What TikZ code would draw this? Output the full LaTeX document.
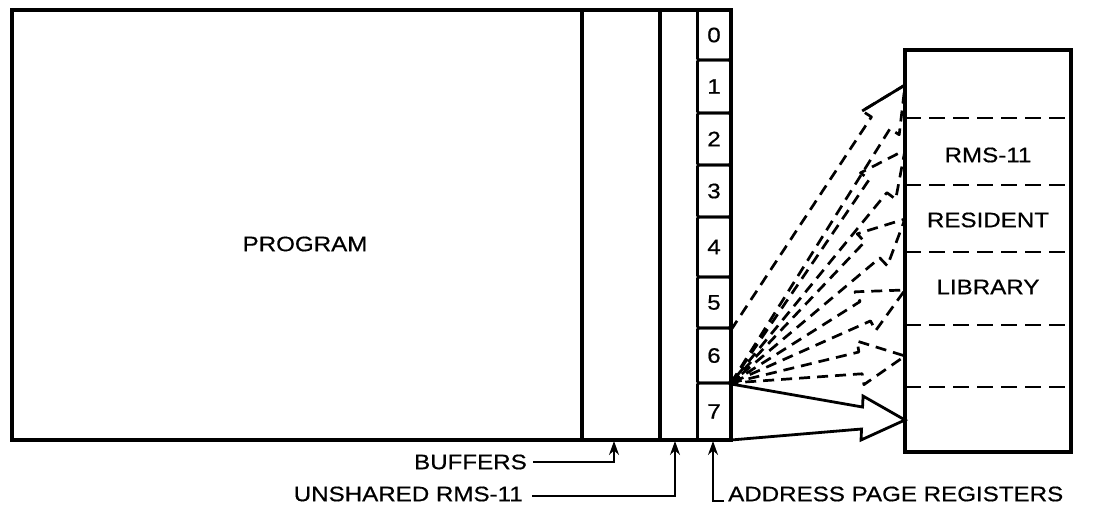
\documentclass[tikz,border=0pt]{standalone}
\usepackage{fontspec}
\setmainfont{Liberation Sans}[FakeStretch=1.15, FakeBold=0.6]
\usetikzlibrary{calc, arrows.meta}

\begin{document}
\begin{tikzpicture}[
  x=1pt, y=-1pt, every node/.style={font=\fontsize{21}{24}\selectfont, inner sep=0pt},
  frame/.style={draw, line width=3.2pt},
  regcell/.style={draw, line width=2.8pt, rounded corners=1.5pt, minimum width=33pt},
  seg/.style={line width=2.8pt, dash pattern=on 16pt off 8pt},
  fatdash/.style={line width=2.7pt, dash pattern=on 11pt off 7pt, line join=round},
  fatsolid/.style={line width=2.8pt, line join=miter},
  pointer/.style={line width=1.8pt, -{Stealth[length=14pt,width=10pt]}}
]
\useasboundingbox (0,0) rectangle (1093,510);

% Program space with buffers and unshared RMS-11
\node[frame, minimum width=719pt, minimum height=430pt] (prog) at (371.5,225) {};
\node (progtxt) at (305,244) {PROGRAM};
\draw[frame] (582,10) -- (582,440);
\draw[frame] (660,10) -- (660,440);

% Address page registers 0..7
\foreach \i/\y/\h in {0/35/50, 1/86.5/53, 2/139/52, 3/191/52, 4/247/60, 5/302.5/51, 6/355.5/55, 7/411.5/57}
  \node[regcell, minimum height=\h pt] (r\i) at (714,\y) {\i};

% Resident library
\node[frame, minimum width=166pt, minimum height=402pt] (lib) at (988,251) {};
\foreach \y in {118,185,252,325,387}
  \draw[seg] (905,\y) -- (1071,\y);
\node (rms) at (988,155) {RMS-11};
\node (res) at (988,220) {RESIDENT};
\node (libtxt) at (988,287) {LIBRARY};

% Mapping arrows
\coordinate (a6top) at (731,330);
\coordinate (a6bot) at (731,383);
\coordinate (a6mid) at (731,356);
\coordinate (a7top) at (731,384);
\coordinate (a7bot) at (731,440);
\coordinate (a7mid) at (731,412);
\foreach \n/\y in {1/85, 2/150, 3/219, 4/290, 5/356, 7/420}
  \coordinate (tip\n) at (905,\y);
\coordinate (hb1) at ($(tip1)!45pt!(a6mid)$);
\foreach \n in {2,...,5}
  \coordinate (hb\n) at ($(tip\n)!45pt!(a6bot)$);
\coordinate (hb7) at ($(tip7)!43pt!(a7mid)$);

\draw[fatdash] (a6top) -- ($(hb1)!11pt!90:(tip1)$) -- ($(hb1)!22pt!90:(tip1)$) -- (tip1)
  -- ($(hb1)!22pt!-90:(tip1)$) -- ($(hb1)!11pt!-90:(tip1)$) -- (a6bot);
\draw[fatsolid] ($(hb1)!22pt!90:(tip1)$) -- (tip1);
\foreach \n in {2,...,5}
  \draw[fatdash] (a6bot) -- ($(hb\n)!11pt!90:(tip\n)$) -- ($(hb\n)!22pt!90:(tip\n)$) -- (tip\n)
    -- ($(hb\n)!22pt!-90:(tip\n)$) -- ($(hb\n)!11pt!-90:(tip\n)$) -- (a6bot);
\draw[fatsolid] (a7top) -- ($(hb7)!11pt!90:(tip7)$) -- ($(hb7)!22pt!90:(tip7)$) -- (tip7)
  -- ($(hb7)!22pt!-90:(tip7)$) -- ($(hb7)!11pt!-90:(tip7)$) -- (a7bot);

% Labels below
\node[anchor=east] (buf) at (527,462) {BUFFERS};
\coordinate (bufpt) at (614,441);
\draw[pointer] ([xshift=6pt]buf.east) -| (bufpt);
\node[anchor=east] (unsh) at (523,494) {UNSHARED RMS-11};
\coordinate (unshpt) at (675,441);
\draw[pointer] ([xshift=9pt, yshift=-2pt]unsh.east) -| (unshpt);
\node[anchor=west] (apr) at (728,494) {ADDRESS PAGE REGISTERS};
\coordinate (aprpt) at (713,441);
\draw[pointer] ([xshift=-4pt, yshift=1pt]apr.south west) -| (aprpt);

\end{tikzpicture}
\end{document}
